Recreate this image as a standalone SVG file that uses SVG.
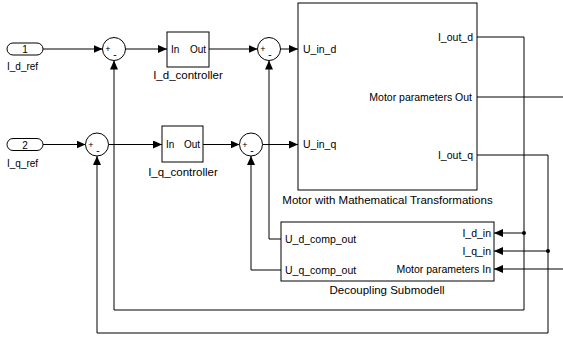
<svg xmlns="http://www.w3.org/2000/svg" width="563" height="343" viewBox="0 0 563 343">
<defs>
<marker id="arr" markerUnits="userSpaceOnUse" markerWidth="10" markerHeight="9" refX="9" refY="4" orient="auto">
<path d="M0,0 L9,4 L0,8 z" fill="#000"/>
</marker>
<style>
text{font-family:"Liberation Sans",Arial,sans-serif;fill:#000}
.blk{fill:#fff;stroke:#000;stroke-width:1}
.w{fill:none;stroke:#000;stroke-width:1}
.a{marker-end:url(#arr)}
.lbl{font-size:11.5px;text-anchor:middle}
.port{font-size:10.5px}
.ref{font-size:10px}
.r{text-anchor:end}
.sg{font-size:9px;text-anchor:middle}
.sm{font-size:10px;text-anchor:middle}
</style>
</defs>
<rect width="563" height="343" fill="#fff"/>
<g id="connectors">
<path class="w a" d="M43,49 H102.5"/>
<path class="w a" d="M125.5,49 H167"/>
<path class="w a" d="M209,49 H257.5"/>
<path class="w a" d="M280.5,49 H298"/>
<path class="w a" d="M43,144.5 H85.5"/>
<path class="w a" d="M108.5,144.5 H162"/>
<path class="w a" d="M203,144.5 H239.5"/>
<path class="w a" d="M262.5,144.5 H298"/>
<path class="w a" d="M477,37 H524 V310 H114 V60.5"/>
<path class="w a" d="M477,155 H548 V333 H97 V156"/>
<path class="w" d="M477,97 H563"/>
<path class="w a" d="M524,233 H494"/>
<path class="w a" d="M548,251 H494"/>
<path class="w a" d="M563,269 H494"/>
<path class="w a" d="M281,239 H269 V60.5"/>
<path class="w a" d="M281,270 H251 V156"/>
<circle cx="524" cy="233" r="2" fill="#000"/>
<circle cx="548" cy="251" r="2" fill="#000"/>
</g>
<g id="in1">
<rect class="blk" x="7" y="43" width="36" height="12" rx="6"/>
<text class="sm" x="25" y="53">1</text>
<text class="ref" x="7" y="70">I_d_ref</text>
</g>
<g id="in2">
<rect class="blk" x="7" y="138.5" width="36" height="12" rx="6"/>
<text class="sm" x="25" y="148.5">2</text>
<text class="ref" x="7" y="167">I_q_ref</text>
</g>
<g id="sum_d1">
<circle class="blk" cx="114" cy="49" r="11.5"/>
<text class="sg" x="108" y="52">+</text>
<text class="sm" x="115" y="58">-</text>
</g>
<g id="sum_d2">
<circle class="blk" cx="269" cy="49" r="11.5"/>
<text class="sg" x="263" y="52">+</text>
<text class="sm" x="270" y="58">-</text>
</g>
<g id="sum_q1">
<circle class="blk" cx="97" cy="144.5" r="11.5"/>
<text class="sg" x="91" y="147.5">+</text>
<text class="sm" x="98" y="153.5">-</text>
</g>
<g id="sum_q2">
<circle class="blk" cx="251" cy="144.5" r="11.5"/>
<text class="sg" x="245" y="147.5">+</text>
<text class="sm" x="252" y="153.5">-</text>
</g>
<g id="I_d_controller">
<rect class="blk" x="167" y="32" width="42" height="35"/>
<text class="ref" x="171" y="53">In</text>
<text class="ref r" x="206" y="53">Out</text>
<text class="lbl" x="188" y="79">I_d_controller</text>
</g>
<g id="I_q_controller">
<rect class="blk" x="162" y="126" width="41" height="36"/>
<text class="ref" x="166" y="148">In</text>
<text class="ref r" x="200" y="148">Out</text>
<text class="lbl" x="183" y="175.5">I_q_controller</text>
</g>
<g id="motor">
<rect class="blk" x="298" y="3" width="179" height="187"/>
<text class="port" x="303" y="52.5">U_in_d</text>
<text class="port" x="303" y="148">U_in_q</text>
<text class="port r" x="473" y="41">I_out_d</text>
<text class="port r" x="472" y="101">Motor parameters Out</text>
<text class="port r" x="473" y="159">I_out_q</text>
<text class="lbl" x="387.5" y="204">Motor with Mathematical Transformations</text>
</g>
<g id="decoupling">
<rect class="blk" x="281" y="222" width="213" height="59"/>
<text class="port" x="285" y="243">U_d_comp_out</text>
<text class="port" x="285" y="273.5">U_q_comp_out</text>
<text class="port r" x="491" y="237">I_d_in</text>
<text class="port r" x="491" y="254.5">I_q_in</text>
<text class="port r" x="491" y="272.5">Motor parameters In</text>
<text class="lbl" x="387" y="294">Decoupling Submodell</text>
</g>
</svg>
